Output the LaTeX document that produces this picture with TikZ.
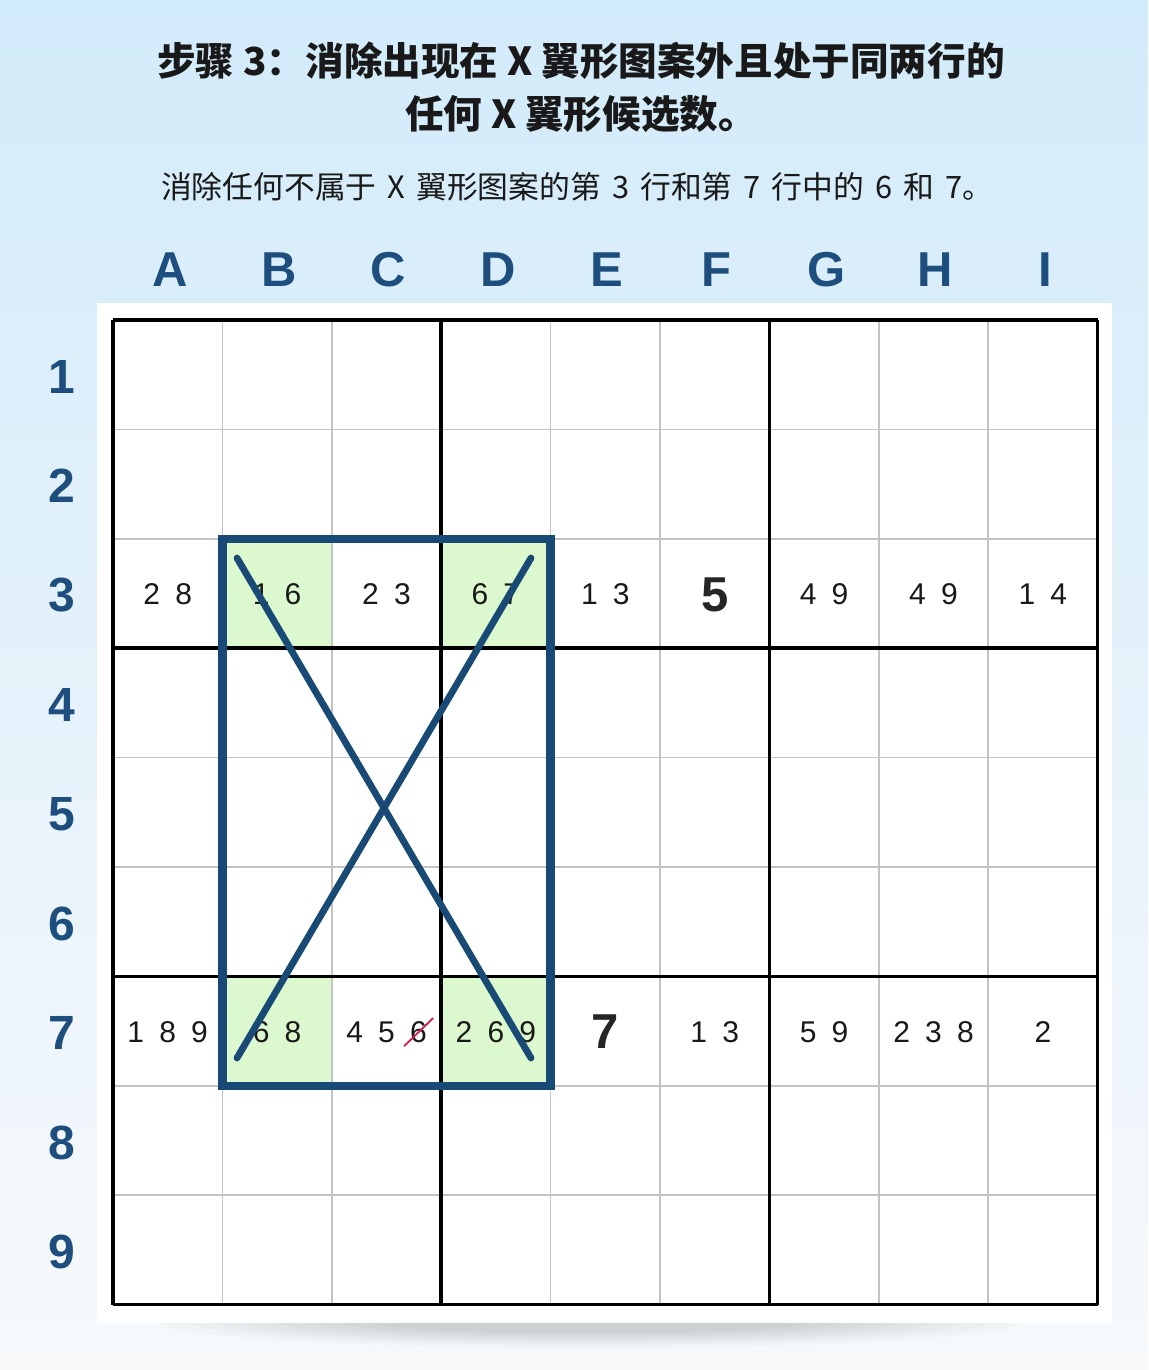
\documentclass[tikz,border=0pt]{standalone}
\usepackage{fontspec}
\setmainfont{Liberation Sans}
\newfontfamily\cjk{Noto Sans CJK SC}
\usetikzlibrary{positioning}
\definecolor{bgtop}{RGB}{210,235,250}
\definecolor{bgbot}{RGB}{247,249,251}
\definecolor{wingblue}{RGB}{25,74,118}
\definecolor{labelblue}{RGB}{29,78,125}
\definecolor{pairgreen}{RGB}{220,248,207}
\definecolor{gridgray}{RGB}{196,196,196}
\definecolor{strikered}{RGB}{205,30,78}
\tikzstyle{heading} = [font=\cjk\bfseries\fontsize{19.3}{26.5}\selectfont, align=center,
text=black!90]
\tikzstyle{subheading} = [font=\cjk\fontsize{15.4}{18}\selectfont, text=black!90]
\tikzstyle{colhead} = [font=\bfseries\fontsize{24.5}{28}\selectfont, text=labelblue,
inner sep=0pt]
\tikzstyle{rowhead} = [font=\bfseries\fontsize{24}{28}\selectfont, text=labelblue,
inner sep=0pt]
\tikzstyle{cand} = [font=\fontsize{15}{18}\selectfont, text=black!90, inner sep=0pt]
\tikzstyle{given} = [font=\bfseries\fontsize{24.5}{28}\selectfont, text=black!85,
inner sep=0pt]
\tikzstyle{pair} = [fill=pairgreen]
\tikzstyle{wing} = [draw=wingblue, line width=4.3pt]
\tikzstyle{cross} = [draw=wingblue, line width=3.4pt, line cap=round]
\tikzstyle{strike} = [draw=strikered, line width=0.9pt]
\newcommand{\gp}{\hspace{7.6pt}}
\newcommand{\sk}{\hspace{5.5pt}}

\begin{document}
\begin{tikzpicture}[x=0.5pt, y=-0.5pt]

\shade[top color=bgtop, bottom color=bgbot] (0,0) rectangle (1148,1370);
\foreach \w/\h in {430/26, 400/23, 370/21, 340/19, 310/17, 280/15, 250/13, 220/11}
  \fill[black, opacity=0.018] (590,1322) ellipse ({\w} and {\h});
\fill[white] (97,303) rectangle (1112,1323);

\node(title)[heading] at (581,87) {步骤 3：消除出现在 X 翼形图案外且处于同两行的\\任何 X 翼形候选数。};
\node(sub)[subheading] at (577,187) {消除任何不属于\sk X\sk 翼形图案的第\sk 3\sk 行和第\sk 7\sk 行中的\sk 6\sk 和\sk 7。};

\foreach \c in {2,4} \foreach \r in {3,7}
  \fill[pair] ({113+109.4*(\c-1)},{320+109.4*(\r-1)}) rectangle ++(109.4,109.4);

\foreach \i in {1,2,4,5,7,8} {
  \draw[gridgray, line width=0.75pt] ({113+109.4*\i},320) -- ++(0,984.6);
  \draw[gridgray, line width=0.75pt] (113,{320+109.4*\i}) -- ++(984.6,0);
}
\foreach \i in {0,3,6,9} {
  \draw[black, line width=1.8pt] ({113+109.4*\i},320) -- ++(0,984.6);
  \draw[black, line width=1.8pt] (113,{320+109.4*\i}) -- ++(984.6,0);
}

\foreach \l [count=\c] in {A,B,C,D,E,F,G,H,I}
  \node(col\l)[colhead] at ({113+109.4*(\c-0.5)+2},270) {\l};
\foreach \r in {1,...,9}
  \node(row\r)[rowhead] at (62,{320+109.4*(\r-0.5)+2}) {\r};

\foreach \c/\r/\t in {1/3/{2\gp8}, 2/3/{1\gp6}, 3/3/{2\gp3}, 4/3/{6\gp7}, 5/3/{1\gp3},
  7/3/{4\gp9}, 8/3/{4\gp9}, 9/3/{1\gp4}, 1/7/{1\gp8\gp9}, 2/7/{6\gp8},
  3/7/{4\gp5\gp6}, 4/7/{2\gp6\gp9}, 6/7/{1\gp3}, 7/7/{5\gp9}, 8/7/{2\gp3\gp8}, 9/7/{2}}
  \node(cell\c\r)[cand] at ({113+109.4*(\c-0.5)},{320+109.4*(\r-0.5)+1}) {\t};
\node(cell63)[given] at ({113+109.4*5.5},{320+109.4*2.5+1}) {5};
\node(cell57)[given] at ({113+109.4*4.5},{320+109.4*6.5+1}) {7};

\draw[strike] ([shift={(-23,3)}]cell37.south east) -- ([shift={(6,-3)}]cell37.north east);

\coordinate(wingtl) at (222.4,538.8);
\coordinate(wingbr) at (550.6,1085.8);
\draw[wing] (wingtl) rectangle (wingbr);
\coordinate(crosstl) at (237,558);
\coordinate(crosstr) at (531,558);
\coordinate(crossbl) at (237,1058);
\coordinate(crossbr) at (531,1058);
\draw[cross] (crosstl) -- (crossbr);
\draw[cross] (crosstr) -- (crossbl);

\end{tikzpicture}
\end{document}
